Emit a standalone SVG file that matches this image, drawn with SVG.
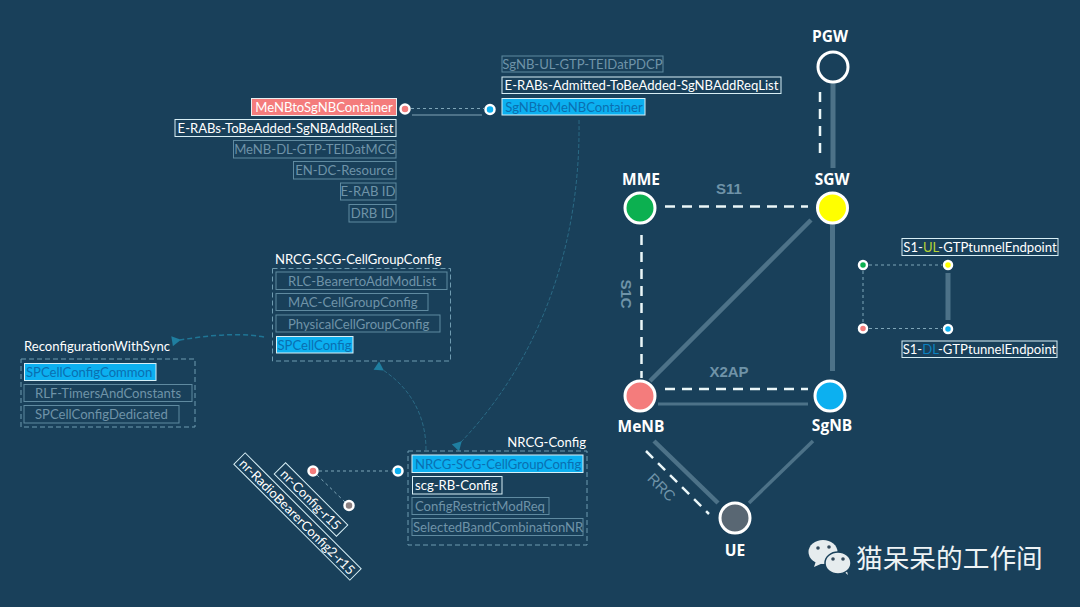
<svg xmlns="http://www.w3.org/2000/svg" width="1080" height="607" viewBox="0 0 1080 607">
<style>
text{font-family:"Lato","Open Sans","Liberation Sans",sans-serif;font-size:13.100px}
.n{font-family:"Open Sans","Liberation Sans",sans-serif;font-weight:700;font-size:15.500px;fill:#fff;text-anchor:middle}
.l{font-family:"Liberation Sans",sans-serif;font-weight:700;font-size:15px;fill:#6f93a8;text-anchor:middle}
.b{fill:none;stroke:#5f8aa0;stroke-width:1}
.t{fill:#6f93a8}
.w{fill:none;stroke:#d7eef5;stroke-width:1}
.tw{fill:#fff}
.c{fill:#0cb0f0;stroke:#d7f0f8;stroke-width:1}
.tc{fill:#0a6fb0}
.d{fill:none;stroke:#6f9bb0;stroke-width:1;stroke-dasharray:5 3}
.sl{stroke:#4d7288;fill:none;stroke-linecap:butt}
.ds{stroke:#eaf6f8;stroke-width:2.500;stroke-dasharray:10 7;fill:none}
.th{stroke:#7fa6b8;stroke-width:1;stroke-dasharray:3 3;fill:none}
.cv{stroke:#2a6a85;stroke-width:1;stroke-dasharray:4 2;fill:none}
.cd{stroke:#1f7595;stroke-width:1.500;stroke-dasharray:5 3;fill:none}
.node{stroke:#fff;stroke-width:3}
.dot{stroke:#fff;stroke-width:2.500}
</style>
<defs>
<marker id="a" markerWidth="10" markerHeight="10" refX="1" refY="5" orient="auto" markerUnits="userSpaceOnUse"><path d="M9 0L0 5L9 10Z" fill="#1f7ea0"/></marker>
</defs>
<rect width="1080" height="607" fill="#19405a"/>
<g id="connectors">
<path class="sl" stroke-width="5" d="M833 82V168"/>
<path class="ds" d="M820 92V160"/>
<path class="ds" d="M665 206.500H808"/>
<path class="ds" d="M641.500 235V378"/>
<path class="ds" d="M665 389H808"/>
<path class="sl" stroke-width="3" d="M658 404H808"/>
<path class="sl" stroke-width="4.500" d="M811 220L650 381"/>
<path class="sl" stroke-width="5" d="M832.500 224V371"/>
<path class="sl" stroke-width="4.500" d="M654 441L718 503"/>
<path class="ds" d="M646 451L709 514"/>
<path class="sl" stroke-width="3.500" d="M749 503L813 441"/>
<path class="th" d="M411 108.500H484"/>
<path class="sl" stroke-width="2" d="M412 115H482"/>
<path class="th" d="M319 471H392"/>
<path class="th" d="M317 475L345 502"/>
<path class="th" d="M869 265H942M863 271V322M869 328.500H942"/>
<path class="sl" stroke-width="5" d="M948 273V320"/>
<path class="cv" d="M579 120C581 260 530 370 461 442" marker-end="url(#a)"/>
<path class="cd" d="M264 337C235 332 205 336 180 340" marker-end="url(#a)"/>
<path class="cv" d="M426 450C426 415 410 388 383 370" marker-end="url(#a)"/>
</g>
<g id="node-pgw"><circle class="node" cx="833" cy="67" r="15" fill="#19405a"/><text class="n" x="830" y="42">PGW</text></g>
<g id="node-sgw"><circle class="node" cx="832.500" cy="208" r="15" fill="#ffff00"/><text class="n" x="832" y="185">SGW</text></g>
<g id="node-mme"><circle class="node" cx="640" cy="208" r="15" fill="#0cb050"/><text class="n" x="641" y="185">MME</text></g>
<g id="node-menb"><circle class="node" cx="640" cy="396" r="15" fill="#f47c7c"/><text class="n" x="641" y="432">MeNB</text></g>
<g id="node-sgnb"><circle class="node" cx="830" cy="396" r="15" fill="#0cb0f0"/><text class="n" x="832" y="431">SgNB</text></g>
<g id="node-ue"><circle class="node" cx="735" cy="518" r="15" fill="#596773"/><text class="n" x="735" y="556">UE</text></g>
<g id="edge-labels">
<text class="l" x="729" y="194">S11</text>
<text class="l" x="729" y="377">X2AP</text>
<text class="l" transform="translate(621 294) rotate(90)">S1C</text>
<text class="l" style="font-weight:400" transform="translate(658 491) rotate(45)">RRC</text>
</g>
<g id="menb-list">
<rect x="251.500" y="98.500" width="145" height="17" fill="#f47c7c" stroke="#e8f0f0"/><text x="324" y="111.500" fill="#fff" text-anchor="middle">MeNBtoSgNBContainer</text>
<rect class="w" x="175" y="119.500" width="221" height="17"/><text class="tw" x="285.500" y="132.500" text-anchor="middle">E-RABs-ToBeAdded-SgNBAddReqList</text>
<rect class="b" x="233.500" y="140.500" width="162.500" height="17.500"/><text class="t" x="315" y="153.500" text-anchor="middle">MeNB-DL-GTP-TEIDatMCG</text>
<rect class="b" x="293.500" y="161.500" width="102.500" height="17.500"/><text class="t" x="344.500" y="175" text-anchor="middle">EN-DC-Resource</text>
<rect class="b" x="340.500" y="183" width="55.500" height="17"/><text class="t" x="368" y="196" text-anchor="middle">E-RAB ID</text>
<rect class="b" x="349" y="204.500" width="47" height="17.500"/><text class="t" x="372.500" y="218" text-anchor="middle">DRB ID</text>
</g>
<g id="sgnb-list">
<rect class="b" x="502" y="56" width="161" height="16"/><text class="t" x="582.500" y="69" text-anchor="middle">SgNB-UL-GTP-TEIDatPDCP</text>
<rect class="w" x="502" y="77" width="279" height="16.500"/><text class="tw" x="641.500" y="90" text-anchor="middle">E-RABs-Admitted-ToBeAdded-SgNBAddReqList</text>
<rect class="c" x="502" y="98.500" width="143" height="16.500"/><text class="tc" x="574" y="111.500" text-anchor="middle">SgNBtoMeNBContainer</text>
</g>
<g id="dot-menb"><circle class="dot" cx="405" cy="109" r="4.500" fill="#f47c7c"/></g>
<g id="dot-sgnb"><circle class="dot" cx="490" cy="109.500" r="4.500" fill="#0cb0f0"/></g>
<g id="nrcg-scg">
<text fill="#fff" x="275" y="264">NRCG-SCG-CellGroupConfig</text>
<rect class="d" x="272.500" y="268.500" width="178" height="92.500"/>
<rect class="b" x="276" y="272" width="171" height="17.500"/><text class="t" x="288" y="285.500">RLC-BearertoAddModList</text>
<rect class="b" x="276" y="293.500" width="152" height="17"/><text class="t" x="288" y="307">MAC-CellGroupConfig</text>
<rect class="b" x="276" y="315" width="164" height="17"/><text class="t" x="288" y="328.500">PhysicalCellGroupConfig</text>
<rect class="c" x="276.500" y="336.500" width="76.500" height="16.500"/><text class="tc" x="277.500" y="349.500">SPCellConfig</text>
</g>
<g id="reconf">
<text fill="#fff" x="24" y="351">ReconfigurationWithSync</text>
<rect class="d" x="21" y="359" width="174" height="68"/>
<rect class="c" x="24.500" y="363.500" width="131.500" height="17"/><text class="tc" x="26" y="376.500">SPCellConfigCommon</text>
<rect class="b" x="24" y="384.500" width="168" height="17"/><text class="t" x="35" y="398">RLF-TimersAndConstants</text>
<rect class="b" x="24" y="405.500" width="155" height="17.500"/><text class="t" x="35" y="419">SPCellConfigDedicated</text>
</g>
<g id="nrcg-config">
<text fill="#fff" x="586" y="447" text-anchor="end">NRCG-Config</text>
<rect class="d" x="408" y="451" width="179" height="94"/>
<rect class="c" x="412" y="455" width="171" height="17.500"/><text class="tc" x="415" y="468.500">NRCG-SCG-CellGroupConfig</text>
<rect class="w" x="412.500" y="476.500" width="89.500" height="17.500"/><text class="tw" x="415" y="489.500">scg-RB-Config</text>
<rect class="b" x="412" y="497.500" width="137" height="17"/><text class="t" x="415" y="511">ConfigRestrictModReq</text>
<rect class="b" x="412" y="518.500" width="171" height="17"/><text class="t" x="413" y="532">SelectedBandCombinationNR</text>
</g>
<g id="dots-r15">
<circle class="dot" cx="313" cy="471" r="4.500" fill="#f47c7c"/>
<circle class="dot" cx="398" cy="471" r="4.500" fill="#0cb0f0"/>
<circle class="dot" cx="349" cy="505.500" r="4.500" fill="#8a7f80"/>
</g>
<g id="nr-config" transform="translate(311 499.500) rotate(45)"><rect class="w" x="-44" y="-8" width="88" height="16"/><text class="tw" x="0" y="5" text-anchor="middle">nr-Config-r15</text></g>
<g id="nr-radio" transform="translate(297.500 516.500) rotate(45)"><rect class="w" x="-82" y="-8" width="164" height="16"/><text class="tw" x="0" y="5" text-anchor="middle">nr-RadioBearerConfig2-r15</text></g>
<g id="tunnel">
<circle class="dot" cx="863" cy="265" r="4" fill="#0cb050"/>
<circle class="dot" cx="948" cy="265" r="4" fill="#ffff00"/>
<circle class="dot" cx="863" cy="328.500" r="4" fill="#f47c7c"/>
<circle class="dot" cx="948" cy="329" r="4" fill="#0cb0f0"/>
<rect class="w" x="902" y="238.500" width="156" height="17"/><text x="980" y="252" fill="#fff" text-anchor="middle">S1-<tspan fill="#b5d334">UL</tspan>-GTPtunnelEndpoint</text>
<rect class="w" x="902" y="341" width="155" height="16.500"/><text x="979.500" y="354" fill="#fff" text-anchor="middle">S1-<tspan fill="#0a80c0">DL</tspan>-GTPtunnelEndpoint</text>
</g>
<g id="watermark">
<path d="M816 561L814 567L823 563Z" fill="#e6ecee"/>
<ellipse cx="823" cy="552" rx="14.500" ry="12" fill="#e6ecee"/>
<circle cx="818" cy="548" r="1.800" fill="#33495a"/><circle cx="829" cy="547" r="1.800" fill="#33495a"/>
<path d="M842 570L848 575L846 568Z" fill="#e6ecee"/>
<ellipse cx="838" cy="563" rx="13" ry="11" fill="#e6ecee" stroke="#19405a" stroke-width="1.500"/>
<circle cx="833" cy="559" r="1.800" fill="#33495a"/><circle cx="843" cy="559" r="1.800" fill="#33495a"/>
<text x="856" y="568" fill="#eef3f5" style="font-family:'Noto Sans CJK SC',sans-serif;font-size:26.700px">猫呆呆的工作间</text>
</g>
</svg>
